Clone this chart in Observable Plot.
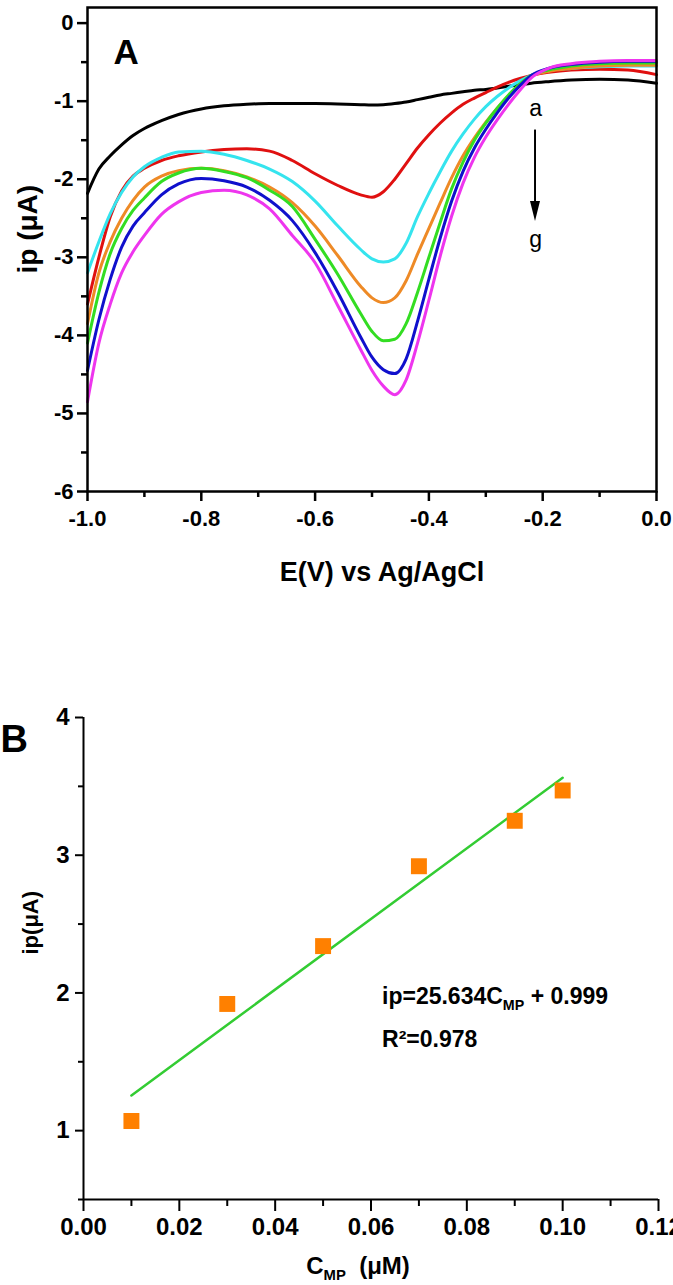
<!DOCTYPE html>
<html><head><meta charset="utf-8">
<script src="https://cdn.jsdelivr.net/npm/d3@7"></script>
<script src="https://cdn.jsdelivr.net/npm/@observablehq/plot@0.6"></script>
<style>
body{margin:0;background:#fff;}
#wrap{position:relative;width:673px;height:1285px;overflow:hidden;background:#fff;}
#wrap svg{display:block;}
</style></head><body><div id="wrap"></div>
<script>
// ---------- Panel A: voltammograms ----------
const potential = [-1.0, -0.98, -0.96, -0.94, -0.92, -0.9, -0.87, -0.84, -0.8, -0.76, -0.72, -0.68, -0.64, -0.6, -0.56, -0.52, -0.5, -0.48, -0.46, -0.44, -0.42, -0.4, -0.38, -0.36, -0.34, -0.32, -0.3, -0.28, -0.26, -0.24, -0.22, -0.19, -0.15, -0.1, -0.05, 0.0];
const curveA = [-2.18, -1.87, -1.7, -1.56, -1.44, -1.35, -1.25, -1.17, -1.1, -1.06, -1.04, -1.03, -1.03, -1.03, -1.035, -1.045, -1.05, -1.045, -1.03, -1.01, -0.98, -0.95, -0.92, -0.9, -0.88, -0.86, -0.85, -0.83, -0.81, -0.79, -0.77, -0.75, -0.73, -0.72, -0.73, -0.77];
const curveB = [-3.6, -3.0, -2.48, -2.15, -1.96, -1.86, -1.76, -1.7, -1.65, -1.62, -1.61, -1.64, -1.76, -1.93, -2.08, -2.2, -2.23, -2.16, -2.0, -1.8, -1.6, -1.43, -1.28, -1.15, -1.04, -0.96, -0.89, -0.82, -0.76, -0.71, -0.67, -0.63, -0.6, -0.59, -0.6, -0.66];
const curveC = [-3.2, -2.8, -2.44, -2.17, -1.97, -1.84, -1.72, -1.65, -1.64, -1.68, -1.76, -1.87, -2.03, -2.28, -2.6, -2.9, -3.02, -3.06, -3.02, -2.82, -2.48, -2.18, -1.9, -1.64, -1.42, -1.23, -1.07, -0.94, -0.83, -0.74, -0.67, -0.61, -0.58, -0.56, -0.55, -0.55];
const curveD = [-3.85, -3.2, -2.8, -2.5, -2.27, -2.1, -1.96, -1.89, -1.86, -1.89, -1.97, -2.1, -2.3, -2.6, -2.98, -3.37, -3.52, -3.58, -3.52, -3.3, -2.96, -2.63, -2.3, -1.98, -1.7, -1.47, -1.27, -1.09, -0.93, -0.79, -0.68, -0.62, -0.58, -0.55, -0.54, -0.54];
const curveE = [-4.1, -3.45, -2.95, -2.63, -2.4, -2.24, -2.03, -1.92, -1.86, -1.9, -1.98, -2.14, -2.35, -2.77, -3.22, -3.72, -3.95, -4.07, -4.05, -3.85, -3.45, -3.0, -2.55, -2.12, -1.78, -1.5, -1.28, -1.09, -0.92, -0.78, -0.67, -0.6, -0.55, -0.52, -0.51, -0.51];
const curveF = [-4.45, -3.8, -3.28, -2.87, -2.6, -2.43, -2.2, -2.06, -1.99, -2.02, -2.1, -2.27, -2.53, -2.94, -3.45, -4.02, -4.28, -4.44, -4.49, -4.3, -3.82, -3.28, -2.75, -2.28, -1.9, -1.6, -1.36, -1.15, -0.96, -0.8, -0.67, -0.58, -0.53, -0.5, -0.49, -0.49];
const curveG = [-4.85, -4.1, -3.6, -3.2, -2.93, -2.72, -2.45, -2.29, -2.17, -2.14, -2.2, -2.38, -2.72, -3.07, -3.62, -4.18, -4.45, -4.65, -4.76, -4.57, -4.1, -3.55, -2.98, -2.47, -2.05, -1.72, -1.46, -1.24, -1.04, -0.86, -0.7, -0.58, -0.52, -0.49, -0.48, -0.48];
const seriesNames = ["a", "b", "c", "d", "e", "f", "g"];
const seriesColors = ["#000000", "#e01010", "#35e4ee", "#ee8a26", "#33dd22", "#1010cc", "#ee35ee"];
const seriesValues = [curveA, curveB, curveC, curveD, curveE, curveF, curveG];

const xTicksA = [-1.0, -0.8, -0.6, -0.4, -0.2, 0.0];
const xMinorA = [-0.9, -0.7, -0.5, -0.3, -0.1];
const yTicksA = [0, -1, -2, -3, -4, -5, -6];
const yMinorA = [-0.5, -1.5, -2.5, -3.5, -4.5, -5.5];

// annotation "a → g"
const arrowLabels = [{text: "a", E: -0.2126, I: -1.10}, {text: "g", E: -0.2126, I: -2.77}];
const arrowSpec = {E: -0.2126, from: -1.37, to: -2.54};

// ---------- Panel B: calibration ----------
const concentration = [0.01, 0.03, 0.05, 0.07, 0.09, 0.10];
const peakCurrent = [1.07, 1.92, 2.34, 2.92, 3.25, 3.47];
const fitSlope = 25.634, fitIntercept = 0.999;
const fitRange = [0.01, 0.10];
const xTicksB = [0, 0.02, 0.04, 0.06, 0.08, 0.10, 0.12];
const xMinorB = [0.01, 0.03, 0.05, 0.07, 0.09, 0.11];
const yTicksB = [1, 2, 3, 4];
const yMinorB = [0.5, 1.5, 2.5, 3.5];
const equationLines = [
  {text: "ip=25.634C_{MP} + 0.999", x: 0.0623, y: 1.97},
  {text: "R\u00B2=0.978", x: 0.0623, y: 1.66}
];

const FONT = "'Liberation Sans', Arial, Helvetica, sans-serif";

const tableA = seriesNames.flatMap((s, k) => potential.map((E, i) => ({series: s, E, I: seriesValues[k][i]})));

function arrowMark(index, scales) {
  const x = scales.x(arrowSpec.E);
  const y1 = scales.y(arrowSpec.from);
  const y2 = scales.y(arrowSpec.to);
  const g = d3.create("svg:g");
  g.append("line").attr("x1", x).attr("x2", x).attr("y1", y1).attr("y2", y2 - 16)
    .attr("stroke", "black").attr("stroke-width", 2);
  g.append("path").attr("d", `M${x - 5},${y2 - 20}L${x + 5},${y2 - 20}L${x},${y2}Z`).attr("fill", "black");
  return g.node();
}

const plotA = Plot.plot({
  width: 673, height: 640,
  marginLeft: 87, marginRight: 17, marginTop: 7, marginBottom: 149,
  style: {fontFamily: FONT, background: "white", color: "black"},
  x: {domain: [-1, 0]},
  y: {domain: [-6, 0.2]},
  color: {domain: seriesNames, range: seriesColors},
  marks: [
    Plot.line(tableA, {x: "E", y: "I", z: "series", stroke: "series", strokeWidth: 3, curve: "monotone-x"}),
    Plot.frame({stroke: "black", strokeWidth: 2.5}),
    Plot.axisX({ticks: xTicksA, tickSize: 10, tickPadding: 9, tickFormat: d => d.toFixed(1), fontSize: 22, fontWeight: "bold", label: null, stroke: "black", strokeWidth: 2.5}),
    Plot.axisX({ticks: xMinorA, tickSize: 6, tickFormat: () => "", label: null, stroke: "black", strokeWidth: 2.5}),
    Plot.axisY({ticks: yTicksA, tickSize: 10, tickPadding: 4, tickFormat: d => String(d), fontSize: 22, fontWeight: "bold", label: null, stroke: "black", strokeWidth: 2.5}),
    Plot.axisY({ticks: yMinorA, tickSize: 6, tickFormat: () => "", label: null, stroke: "black", strokeWidth: 2.5}),
    Plot.text(["E(V) vs Ag/AgCl"], {frameAnchor: "bottom", dx: 10, dy: 81, lineAnchor: "middle", fontSize: 27, fontWeight: "bold"}),
    Plot.text(["ip (\u03BCA)"], {frameAnchor: "left", dx: -59, dy: 24, rotate: -90, lineAnchor: "middle", fontSize: 28, fontWeight: "bold"}),
    Plot.text(["A"], {frameAnchor: "top-left", dx: 26, dy: 45, textAnchor: "start", lineAnchor: "middle", fontSize: 35, fontWeight: "bold"}),
    Plot.text(arrowLabels, {x: "E", y: "I", text: "text", lineAnchor: "middle", fontSize: 23}),
    arrowMark
  ]
});

const fitLine = fitRange.map(c => ({c, ip: fitSlope * c + fitIntercept}));
const tableB = concentration.map((c, i) => ({c, ip: peakCurrent[i]}));

const plotB = Plot.plot({
  width: 673, height: 645,
  marginLeft: 83, marginRight: 15, marginTop: 77, marginBottom: 86,
  style: {fontFamily: FONT, background: "white", color: "black"},
  x: {domain: [0, 0.12]},
  y: {domain: [0.5, 4]},
  marks: [
    Plot.ruleX([0], {stroke: "black", strokeWidth: 2}),
    Plot.ruleY([0.5], {stroke: "black", strokeWidth: 2}),
    Plot.axisX({ticks: xTicksB, tickSize: 12, tickPadding: 6, tickFormat: d => d.toFixed(2), fontSize: 24, fontWeight: "bold", label: null, stroke: "black", strokeWidth: 2}),
    Plot.axisX({ticks: xMinorB, tickSize: 7, tickFormat: () => "", label: null, stroke: "black", strokeWidth: 2}),
    Plot.axisY({ticks: yTicksB, tickSize: 8, tickPadding: 6, tickFormat: d => String(d), fontSize: 24, fontWeight: "bold", label: null, stroke: "black", strokeWidth: 2}),
    Plot.axisY({ticks: yMinorB, tickSize: 5, tickFormat: () => "", label: null, stroke: "black", strokeWidth: 2}),
    Plot.line(fitLine, {x: "c", y: "ip", stroke: "#33cc33", strokeWidth: 2.5}),
    Plot.dot(tableB, {x: "c", y: "ip", symbol: "square", r: 9, fill: "#ff8000", stroke: "none"}),
    Plot.text(equationLines, {x: "x", y: "y", text: "text", textAnchor: "start", lineAnchor: "middle", fontSize: 23, fontWeight: "bold"}),
    Plot.text(["C_{MP}  (\u03BCM)"], {frameAnchor: "bottom", dx: -13, dy: 67, lineAnchor: "middle", fontSize: 24, fontWeight: "bold"}),
    Plot.text(["ip(\u03BCA)"], {frameAnchor: "left", dx: -53, dy: -4, rotate: -90, lineAnchor: "middle", fontSize: 22, fontWeight: "bold"}),
    Plot.text(["B"], {frameAnchor: "top-left", dx: -83, dy: 22, textAnchor: "start", lineAnchor: "middle", fontSize: 38, fontWeight: "bold"})
  ]
});

function applySubscripts(svg, shift) {
  d3.select(svg).selectAll("text").each(function() {
    const t = this.textContent;
    if (!t.includes("_{")) return;
    const parts = t.split(/(_\{[^}]*\})/).filter(p => p);
    const sel = d3.select(this);
    sel.text(null);
    let down = false;
    for (const p of parts) {
      if (p.startsWith("_{")) {
        sel.append("tspan").attr("dy", shift).attr("font-size", "62%").text(p.slice(2, -1));
        down = true;
      } else {
        const ts = sel.append("tspan").text(p);
        if (down) { ts.attr("dy", -shift); down = false; }
      }
    }
  });
}
applySubscripts(plotB, 6);

const wrap = document.getElementById("wrap");
wrap.appendChild(plotA);
wrap.appendChild(plotB);
</script>
</body></html>
